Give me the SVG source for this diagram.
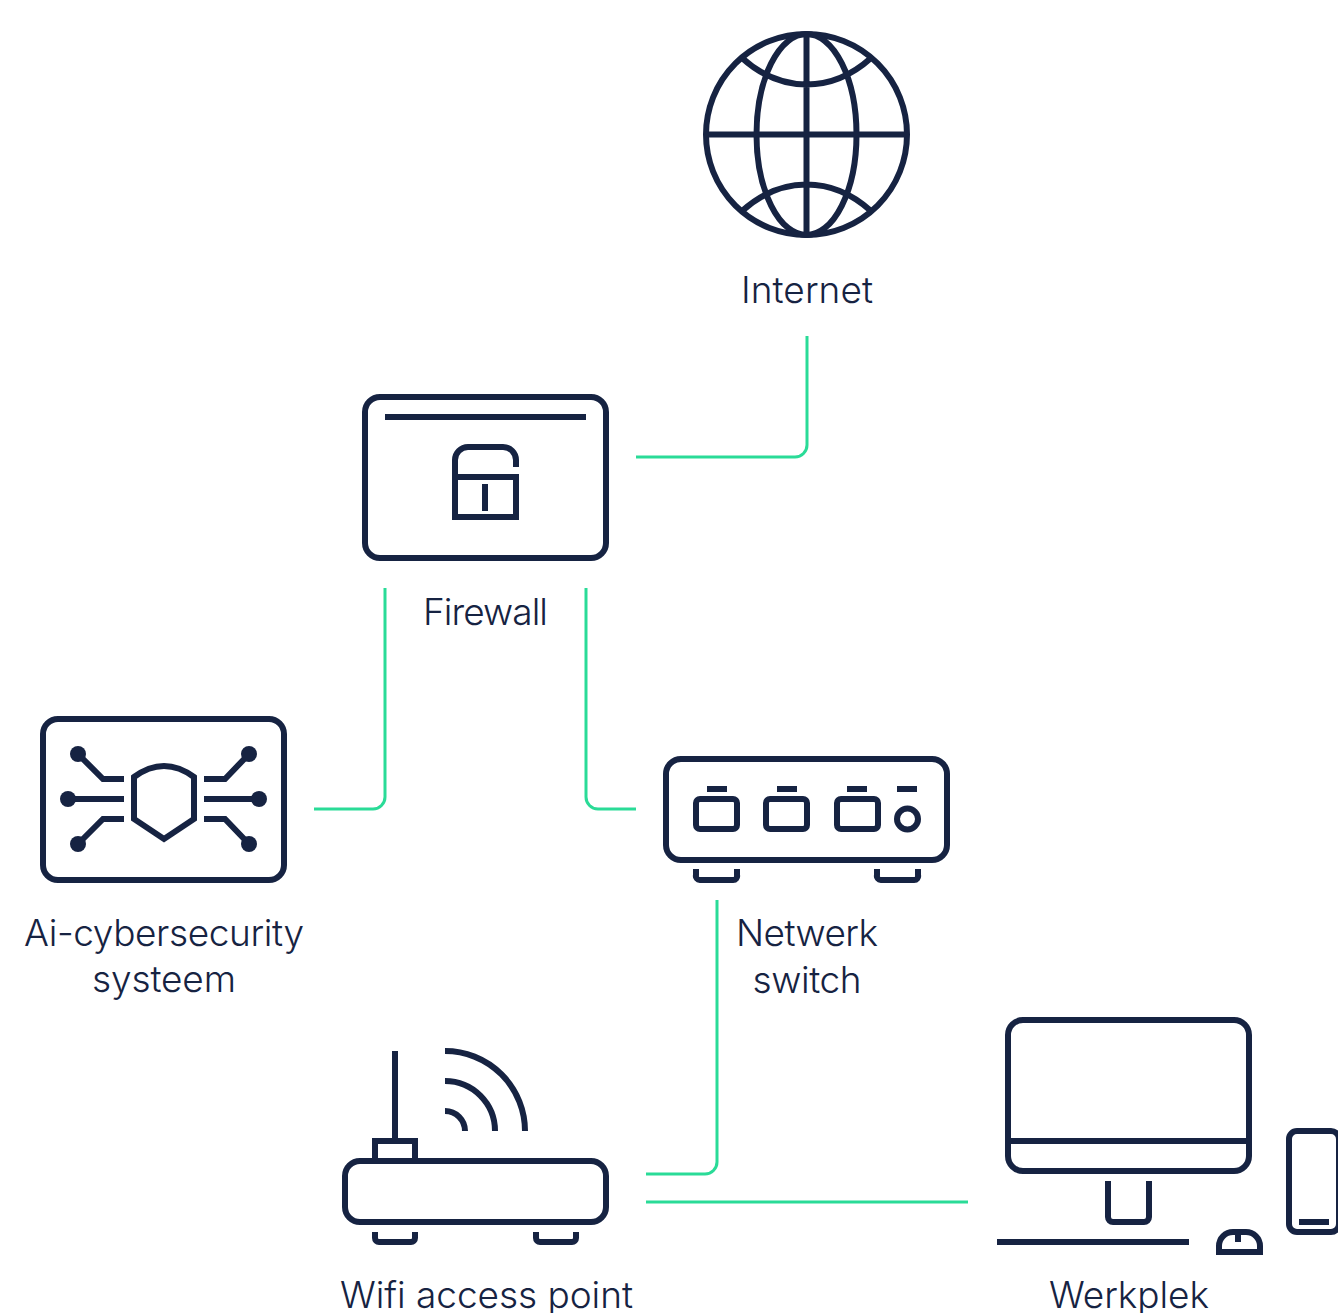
<svg xmlns="http://www.w3.org/2000/svg" width="1338" height="1313" viewBox="0 0 1338 1313">
<style>
.i{fill:none;stroke:#162342;stroke-width:6}
.d{fill:#162342}
.c{fill:none;stroke:#2adb97;stroke-width:3}
text{font-family:"Inter","Liberation Sans",sans-serif;font-size:37px;fill:#162342;text-anchor:middle;font-weight:320}
</style>
<rect width="1338" height="1313" fill="#fff"/>
<g id="connectors">
<path class="c" d="M807 336V445a12 12 0 0 1-12 12H636"/>
<path class="c" d="M385 588V797a12 12 0 0 1-12 12H314"/>
<path class="c" d="M586 588V797a12 12 0 0 0 12 12H636"/>
<path class="c" d="M717 900V1162a12 12 0 0 1-12 12H646"/>
<path class="c" d="M646 1202H968"/>
</g>
<g id="internet">
<circle class="i" cx="806.500" cy="134.500" r="100.500"/>
<ellipse class="i" cx="806.500" cy="134.500" rx="50" ry="100.500"/>
<path class="i" d="M806.500 34V235M706 134.500H907M742 58C762 76 785 84.500 806.500 84.500S851 76 871 58M742 211C762 193 785 184.500 806.500 184.500S851 193 871 211"/>
<text x="807" y="303" textLength="132" lengthAdjust="spacing">Internet</text>
</g>
<g id="firewall">
<rect class="i" x="365" y="397" width="241" height="161" rx="15"/>
<path class="i" d="M385 417H586M455 477H516V517H455ZM455 477V460a13 13 0 0 1 13-13H503a13 13 0 0 1 13 13V467M485 484V511"/>
<text x="485.500" y="625" textLength="125" lengthAdjust="spacing">Firewall</text>
</g>
<g id="ai-cybersecurity">
<rect class="i" x="43" y="719" width="241" height="161" rx="15"/>
<path class="i" d="M134 777Q164 755 194 777V819L164 839L134 819ZM78 754L103 779H124M68 799H124M78 844L103 819H124M249 754L225 779H204M259 799H204M249 844L225 819H204"/>
<circle class="d" cx="78" cy="754" r="8"/><circle class="d" cx="68" cy="799" r="8"/><circle class="d" cx="78" cy="844" r="8"/>
<circle class="d" cx="249" cy="754" r="8"/><circle class="d" cx="259" cy="799" r="8"/><circle class="d" cx="249" cy="844" r="8"/>
<text x="164" y="946" textLength="280" lengthAdjust="spacing">Ai-cybersecurity</text>
<text x="164" y="992" textLength="144" lengthAdjust="spacing">systeem</text>
</g>
<g id="netwerk-switch">
<rect class="i" x="666" y="759" width="281" height="101" rx="15"/>
<rect class="i" x="696" y="799" width="41" height="30" rx="4"/>
<rect class="i" x="766" y="799" width="41" height="30" rx="4"/>
<rect class="i" x="837" y="799" width="41" height="30" rx="4"/>
<circle class="i" cx="907.500" cy="819" r="10.500"/>
<path class="i" d="M707 789H727M777 789H797M847 789H867M897 789H917M696 869V875a4 4 0 0 0 4 5H733a4 4 0 0 0 4-5V869M877 869V875a4 4 0 0 0 4 5H914a4 4 0 0 0 4-5V869"/>
<text x="807" y="946" textLength="142" lengthAdjust="spacing">Netwerk</text>
<text x="807" y="993" textLength="109" lengthAdjust="spacing">switch</text>
</g>
<g id="wifi-access-point">
<rect class="i" x="345" y="1161" width="261" height="61" rx="15"/>
<path class="i" d="M395 1051V1141M375 1161V1141H415V1161M445 1051A80 80 0 0 1 525 1131M445 1081A50 50 0 0 1 495 1131M445 1111A20 20 0 0 1 465 1131M375 1232V1238a4 4 0 0 0 4 4H411a4 4 0 0 0 4-4V1232M536 1232V1238a4 4 0 0 0 4 4H572a4 4 0 0 0 4-4V1232"/>
<text x="486.500" y="1308" textLength="293" lengthAdjust="spacing">Wifi access point</text>
</g>
<g id="werkplek">
<rect class="i" x="1008" y="1020" width="241" height="151" rx="15"/>
<rect class="i" x="1289" y="1131" width="50" height="101" rx="8"/>
<path class="i" d="M1008 1141H1249M1108 1181V1217a5 5 0 0 0 5 5H1144a5 5 0 0 0 5-5V1181M997 1242H1189M1299 1222H1329M1219 1252V1246a14 14 0 0 1 14-14H1246a14 14 0 0 1 14 14V1252ZM1238 1232V1242"/>
<text x="1129" y="1308" textLength="160" lengthAdjust="spacing">Werkplek</text>
</g>
</svg>
